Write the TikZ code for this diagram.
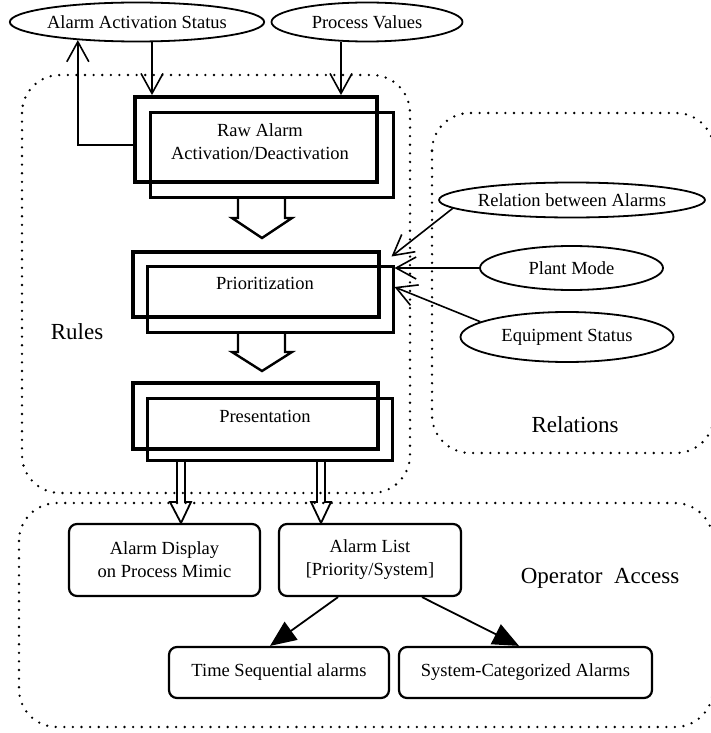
\documentclass[tikz,border=0pt]{standalone}
\usepackage{fontspec}
\setmainfont{Liberation Serif}
\usetikzlibrary{arrows.meta,calc,shapes.geometric}
\begin{document}
\begin{tikzpicture}[x=1pt,y=-1pt,
  every node/.style={font=\fontsize{18.5}{23}\selectfont, inner sep=0pt},
  biglabel/.style={font=\fontsize{23}{27}\selectfont},
  ell/.style={ellipse, draw, line width=1.8pt},
  outerbox/.style={draw, line width=3.8pt},
  innerbox/.style={draw, line width=3pt},
  rbox/.style={draw, rounded corners=8pt, line width=2.2pt, align=center},
  region/.style={dash pattern=on 0pt off 8.6pt, line cap=round, line width=2.6pt, rounded corners=38pt},
  varr/.style={line width=1.6pt, -{Straight Barb[length=20pt,width=22pt,line width=1.6pt]}},
  farr/.style={line width=1.8pt, -{Triangle[length=26pt,width=22pt]}},
  blockarr/.style={line width=2.4pt, line join=miter},
  thinblock/.style={line width=1.8pt, line join=miter},
]
\useasboundingbox (0,0) rectangle (711,733);
\begin{scope}
\clip (0,0) rectangle (711,733);
\draw[region] (22,75) rectangle (410,493);
\draw[region] (432,113) rectangle (714,453);
\draw[region] (19,503) rectangle (713,727);
\end{scope}

% top ellipses
\node[ell, minimum width=250pt, minimum height=39pt] (aas) at (137,22) {Alarm Activation Status};
\node[ell, minimum width=191pt, minimum height=39pt] (pv) at (367,22) {Process Values};

% double boxes
\node[outerbox, minimum width=242pt, minimum height=85pt] (rawo) at (256,139.5) {};
\node[innerbox, minimum width=243pt, minimum height=84pt] (rawi) at (271.5,155) {};
\node[align=center] (rawt) at (260,141.5) {Raw Alarm\\Activation/Deactivation};

\node[outerbox, minimum width=246pt, minimum height=65pt] (prio) at (256,284.5) {};
\node[innerbox, minimum width=246pt, minimum height=66pt] (prii) at (270,299) {};
\node (prit) at (265,283) {Prioritization};

\node[outerbox, minimum width=245pt, minimum height=66pt] (preo) at (255.5,416) {};
\node[innerbox, minimum width=245pt, minimum height=62pt] (prei) at (269.5,429) {};
\node (pret) at (265,416) {Presentation};

% right ellipses
\node[ell, minimum width=263pt, minimum height=35pt] (rba) at (572,200) {Relation between Alarms};
\node[ell, minimum width=183pt, minimum height=44pt] (pm) at (571.5,268) {Plant Mode};
\node[ell, minimum width=213pt, minimum height=50pt] (es) at (567,337) {Equipment Status};

% bottom boxes
\node[rbox, minimum width=191pt, minimum height=72pt] (ad) at (164.5,560) {Alarm Display\\on Process Mimic};
\node[rbox, minimum width=182pt, minimum height=72pt] (al) at (370,560) {Alarm List\\{[}Priority/System{]}};
\node[rbox, minimum width=220pt, minimum height=51pt] (ts) at (279,672.5) {Time Sequential alarms};
\node[rbox, minimum width=253pt, minimum height=51pt] (sc) at (525.5,672.5) {System-Categorized Alarms};

% labels
\node[biglabel] (rules) at (77,332) {Rules};
\node[biglabel] (rel) at (575,425) {Relations};
\node[biglabel] (opa) at (600,578) {Operator\ \ Access};

% connectors
\draw[varr] ([xshift=15pt]aas.south) -- ([xshift=15pt]aas.south |- rawo.north);
\draw[varr] ([xshift=-26pt]pv.south) -- ([xshift=-26pt]pv.south |- rawo.north);
\draw[varr] ([yshift=-5.5pt]rawo.west) -| (aas.-163);

\draw[varr] (rba.184) -- ([xshift=-3pt,yshift=8pt]prii.north east);
\draw[varr] (pm.west) -- (pm.west -| prii.east);
\draw[varr] (es.170) -- ([yshift=12pt]prii.east);

\draw[farr] ([xshift=-32pt]al.south) -- ([xshift=-9pt]ts.north);
\draw[farr] ([xshift=52pt]al.south) -- ([xshift=-6.5pt]sc.north);

% block arrows
\draw[blockarr] (238,198) -- (238,218) -- (232,218) -- (262,238) -- (292,218) -- (285,218) -- (285,198);
\draw[blockarr] (238,332) -- (238,352) -- (232,352) -- (262,371) -- (292,352) -- (285,352) -- (285,332);
\draw[thinblock] (177,460) -- (177,502) -- (170,502) -- (181,523) -- (191,502) -- (185,502) -- (185,460);
\draw[thinblock] (317,460) -- (317,502) -- (311,502) -- (321,523) -- (331,502) -- (325,502) -- (325,460);
\end{tikzpicture}
\end{document}
